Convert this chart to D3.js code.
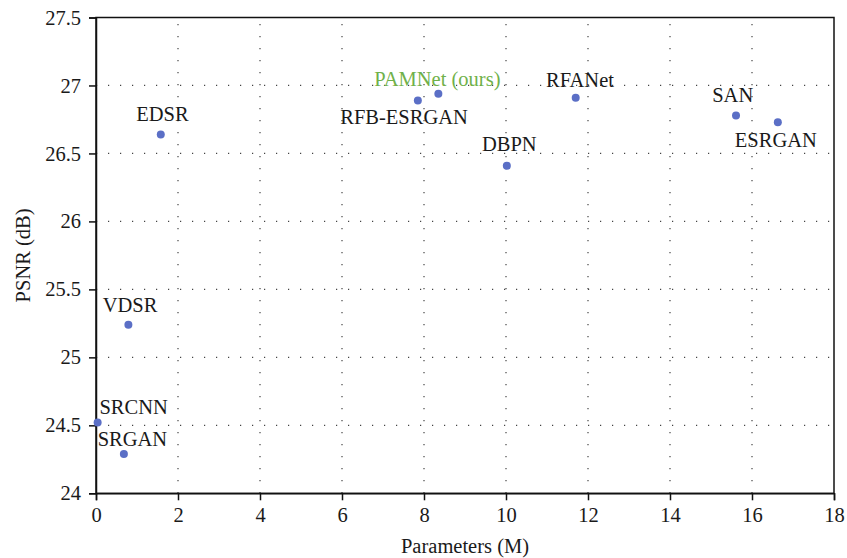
<!DOCTYPE html>
<html>
<head>
<meta charset="utf-8">
<script src="https://cdn.jsdelivr.net/npm/d3@7"></script>
<style>
  body { margin: 0; background: #fff; }
  text { font-family: "Liberation Serif", "DejaVu Serif", serif; fill: #1a1a1a; }
</style>
</head>
<body>
<div id="app"></div>
<script>
const WIDTH = 847;
const HEIGHT = 558;
const FONT = 20.5;

// data
const models = ['SRCNN', 'SRGAN', 'EDSR', 'VDSR', 'RFB-ESRGAN', 'PAMNet (ours)', 'DBPN', 'RFANet', 'SAN', 'ESRGAN'];
const params = [0.04, 0.68, 1.58, 0.79, 7.85, 8.35, 10.02, 11.70, 15.61, 16.63];
const psnr = [24.52, 24.29, 26.64, 25.24, 26.89, 26.94, 26.41, 26.91, 26.78, 26.73];
const xTicks = [0, 2, 4, 6, 8, 10, 12, 14, 16, 18];
const yTicks = [24, 24.5, 25, 25.5, 26, 26.5, 27, 27.5];

// label placement relative to the dot (layout, not data)
const labelOffsets = {
  'SRCNN': [36, -9], 'SRGAN': [8.5, -8], 'EDSR': [1.7, -13.6], 'VDSR': [1.7, -12.6],
  'RFB-ESRGAN': [-13.8, 23.7], 'PAMNet (ours)': [-1, -8], 'DBPN': [2.5, -14.3],
  'RFANet': [4.3, -11], 'SAN': [-3.3, -13.6], 'ESRGAN': [-2, 24.4]
};

const margin = { top: 17.5, right: 13, bottom: 64.7, left: 96 };
const w = WIDTH - margin.left - margin.right;
const h = HEIGHT - margin.top - margin.bottom;

const svg = d3.select('#app')
  .append('svg')
    .attr('width', WIDTH)
    .attr('height', HEIGHT);

const g = svg.append('g').attr('transform', `translate(${margin.left},${margin.top})`);

const x = d3.scaleLinear().domain([0, 18]).range([0, w]);
const y = d3.scaleLinear().domain([24, 27.5]).range([h, 0]);

// dotted grid
g.selectAll('.vgrid')
  .data(xTicks.slice(1, -1))
  .enter().append('line')
    .attr('x1', d => x(d)).attr('x2', d => x(d))
    .attr('y1', h).attr('y2', 0)
    .attr('stroke', '#444').attr('stroke-width', 1.2)
    .attr('stroke-dasharray', '1.2,10.8');

g.selectAll('.hgrid')
  .data(yTicks.slice(1, -1))
  .enter().append('line')
    .attr('y1', d => y(d)).attr('y2', d => y(d))
    .attr('x1', 0).attr('x2', w)
    .attr('stroke', '#444').attr('stroke-width', 1.2)
    .attr('stroke-dasharray', '1.2,10.8');

// frame
g.append('rect')
  .attr('width', w).attr('height', h)
  .attr('fill', 'none').attr('stroke', '#111').attr('stroke-width', 1.5);

const xAxis = d3.axisBottom(x).tickValues(xTicks).tickFormat(d => d).tickSize(7).tickPadding(7);
const yAxis = d3.axisLeft(y).tickValues(yTicks).tickFormat(d => d).tickSize(7).tickPadding(8);

const gx = g.append('g').attr('transform', `translate(0,${h})`).call(xAxis);
const gy = g.append('g').call(yAxis);

[gx, gy].forEach(ax => {
  ax.select('.domain').attr('stroke', '#111').attr('stroke-width', 1.5);
  ax.selectAll('.tick line').attr('stroke', '#111').attr('stroke-width', 1.5);
  ax.selectAll('.tick text')
    .attr('font-size', FONT)
    .attr('fill', '#1a1a1a');
});

// points
g.selectAll('.dot')
  .data(models)
  .enter().append('circle')
    .attr('cx', (d, i) => x(params[i]))
    .attr('cy', (d, i) => y(psnr[i]))
    .attr('r', 4)
    .attr('fill', '#5b6fc6');

// labels
g.selectAll('.label')
  .data(models)
  .enter().append('text')
    .attr('x', (d, i) => x(params[i]) + labelOffsets[d][0])
    .attr('y', (d, i) => y(psnr[i]) + labelOffsets[d][1])
    .attr('text-anchor', 'middle')
    .attr('font-size', FONT)
    .style('fill', d => d === 'PAMNet (ours)' ? '#70b14a' : '#1a1a1a')
    .text(d => d);

// axis titles
svg.append('text')
  .attr('x', margin.left + w / 2)
  .attr('y', 553)
  .attr('text-anchor', 'middle')
  .attr('font-size', FONT)
  .text('Parameters (M)');

svg.append('text')
  .attr('transform', `translate(30,${margin.top + h / 2}) rotate(-90)`)
  .attr('text-anchor', 'middle')
  .attr('font-size', FONT)
  .text('PSNR (dB)');
</script>
</body>
</html>
